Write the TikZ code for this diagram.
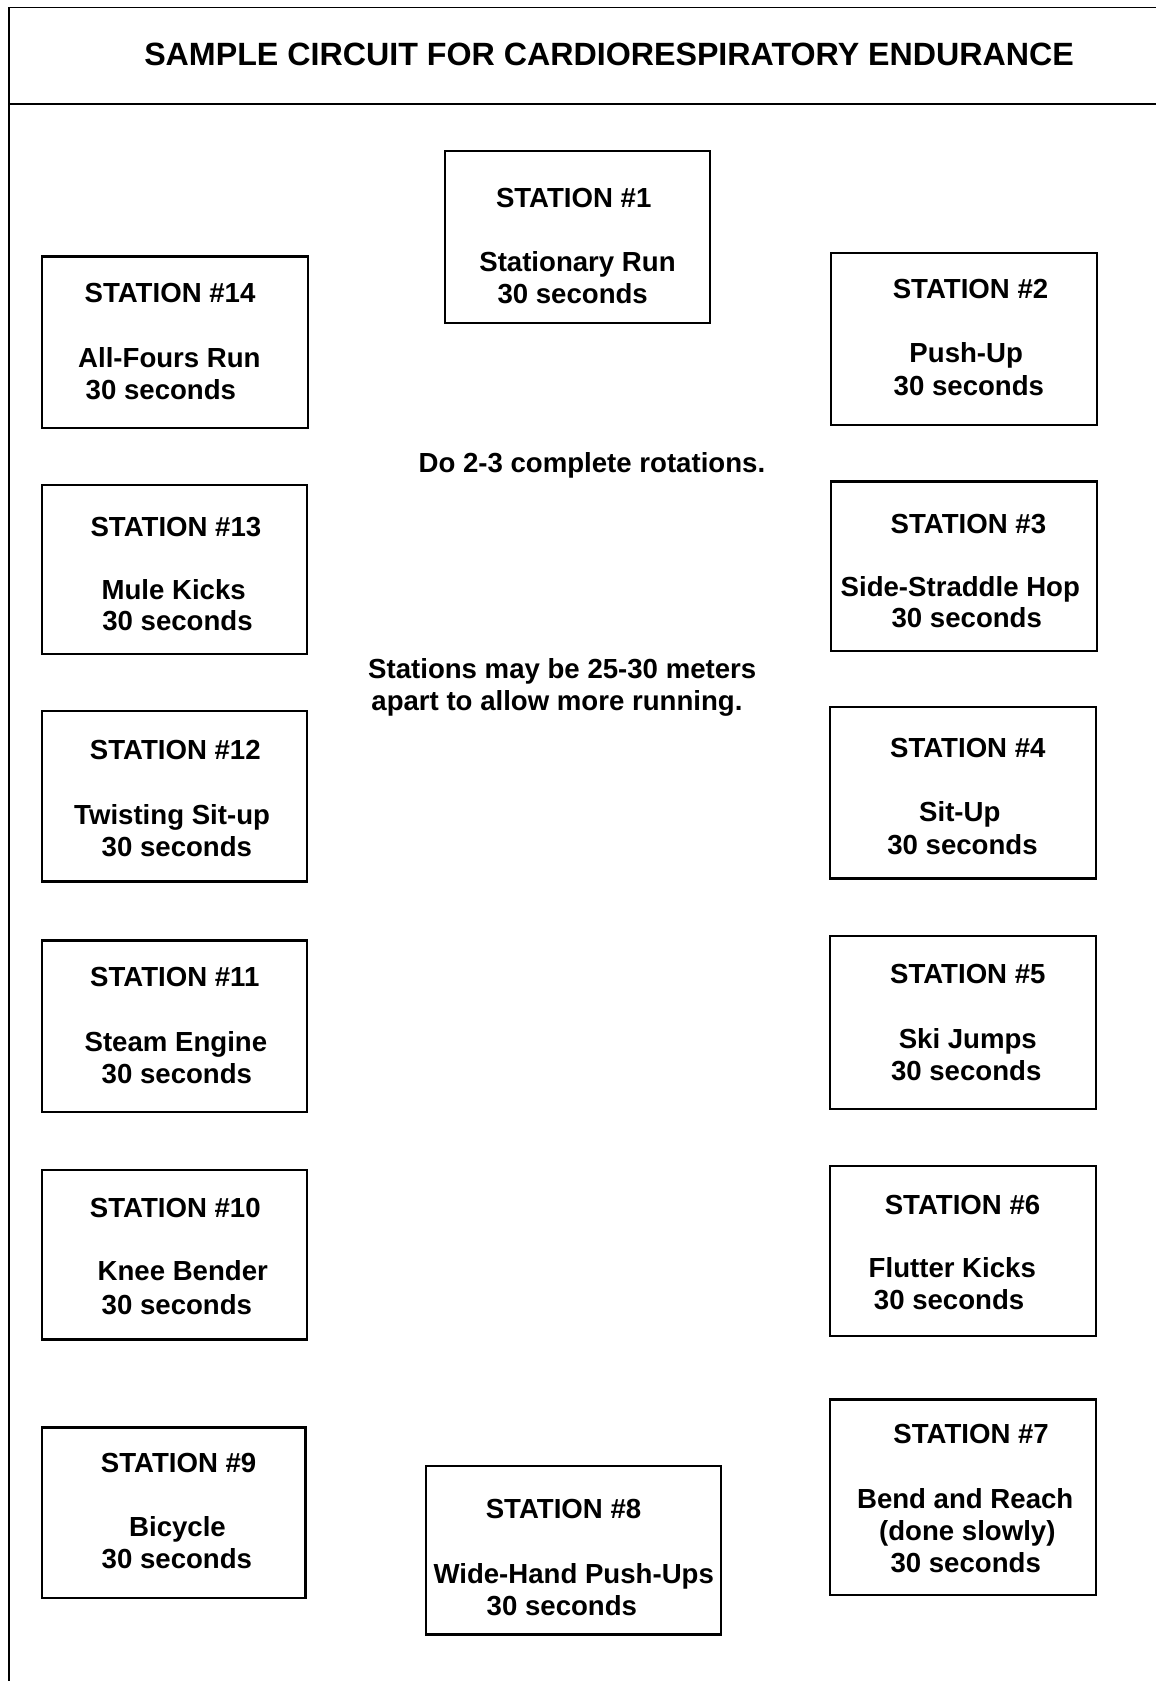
\documentclass[tikz,border=0pt]{standalone}
\usepackage{fontspec}
\setmainfont{Liberation Sans}
\tikzset{
  stbox/.style={draw, line width=1.2pt, inner sep=0pt},
  stxt/.style={anchor=base, inner sep=0pt, font=\bfseries\fontsize{13.8}{16}\selectfont},
  frameline/.style={line width=0.9pt},
}
\newcommand\stbx[5]{\node[stbox, minimum width={(#4-#2)*0.5pt}, minimum height={(#5-#3)*0.5pt}] (#1) at ({(#2+#4)/2},{(#3+#5)/2}) {};}
\newcommand\stl[4]{\node[stxt] (#1) at (#2,{#3+10}) {#4};}
\begin{document}
\begin{tikzpicture}[x=0.5pt,y=-0.5pt]
\useasboundingbox (0,0) rectangle (1156,1681);
% frame
\coordinate (fTL) at (8.6,7.5);
\coordinate (fBL) at (8.6,1681);
\coordinate (fTR) at (1156,7.5);
\coordinate (sL) at (8.6,104);
\coordinate (sR) at (1156,104);
\draw[frameline] (fBL) -- (fTL) -- (fTR);
\draw[frameline] (sL) -- (sR);
\node[anchor=base, inner sep=0pt, font=\bfseries\fontsize{16.1}{18}\selectfont] (title) at (609.1,65) {SAMPLE CIRCUIT FOR CARDIORESPIRATORY ENDURANCE};
% notes
\node[stxt, anchor=base west] (note1) at (418.2,472) {Do 2-3 complete rotations.};
\node[stxt, anchor=base west] (note2) at (367.8,678) {Stations may be 25-30 meters};
\node[stxt, anchor=base west] (note3) at (371,710) {apart to allow more running.};
% station 1
\stbx{b1}{445}{151}{710}{323}
\stl{s1a}{573.7}{197.3}{STATION \#1}
\stl{s1b}{577.5}{261.7}{Stationary Run}
\stl{s1c}{572.7}{293.8}{30 seconds}
% station 14
\stbx{b14}{41.8}{256.3}{307.8}{427.9}
\stl{s14a}{170}{292.8}{STATION \#14}
\stl{s14b}{169.4}{357.1}{All-Fours Run}
\stl{s14c}{160.9}{389.3}{30 seconds}
% station 2
\stbx{b2}{831}{253}{1097}{424.7}
\stl{s2a}{970.5}{288.5}{STATION \#2}
\stl{s2b}{966.2}{352.8}{Push-Up}
\stl{s2c}{968.9}{385}{30 seconds}
% station 13
\stbx{b13}{41.8}{484.7}{306.7}{654.2}
\stl{s13a}{175.9}{526.5}{STATION \#13}
\stl{s13b}{173.7}{589.8}{Mule Kicks}
\stl{s13c}{177.5}{620.9}{30 seconds}
% station 3
\stbx{b3}{831}{481.5}{1097}{651}
\stl{s3a}{968.4}{523.3}{STATION \#3}
\stl{s3b}{960.3}{586.6}{Side-Straddle Hop}
\stl{s3c}{966.8}{617.7}{30 seconds}
% station 12
\stbx{b12}{41.8}{711}{306.7}{881.5}
\stl{s12a}{175.3}{749.6}{STATION \#12}
\stl{s12b}{172.1}{814}{Twisting Sit-up}
\stl{s12c}{176.9}{846.1}{30 seconds}
% station 4
\stbx{b4}{830}{706.7}{1096}{878.3}
\stl{s4a}{967.8}{747.5}{STATION \#4}
\stl{s4b}{959.8}{811.8}{Sit-Up}
\stl{s4c}{962.5}{844}{30 seconds}
% station 11
\stbx{b11}{41.8}{940.5}{306.7}{1112.1}
\stl{s11a}{174.8}{976.9}{STATION \#11}
\stl{s11b}{175.9}{1041.3}{Steam Engine}
\stl{s11c}{176.9}{1073.5}{30 seconds}
% station 5
\stbx{b5}{830}{936.2}{1096}{1108.9}
\stl{s5a}{967.8}{973.7}{STATION \#5}
\stl{s5b}{967.8}{1038.1}{Ski Jumps}
\stl{s5c}{966.2}{1070.3}{30 seconds}
% station 10
\stbx{b10}{41.8}{1170}{306.7}{1339.4}
\stl{s10a}{175.3}{1207.5}{STATION \#10}
\stl{s10b}{182.8}{1270.8}{Knee Bender}
\stl{s10c}{176.9}{1304}{30 seconds}
% station 6
\stbx{b6}{830}{1165.7}{1096}{1336.2}
\stl{s6a}{962.5}{1204.3}{STATION \#6}
\stl{s6b}{952.3}{1267.6}{Flutter Kicks}
\stl{s6c}{949.1}{1299.7}{30 seconds}
% station 9
\stbx{b9}{41.8}{1427.4}{305.6}{1597.9}
\stl{s9a}{178.6}{1462.8}{STATION \#9}
\stl{s9b}{177.5}{1526}{Bicycle}
\stl{s9c}{176.9}{1558.2}{30 seconds}
% station 8
\stbx{b8}{425.7}{1466}{720.7}{1634.3}
\stl{s8a}{563.5}{1508.9}{STATION \#8}
\stl{s8b}{573.7}{1573.2}{Wide-Hand Push-Ups}
\stl{s8c}{561.9}{1605.4}{30 seconds}
% station 7
\stbx{b7}{830}{1399.5}{1096}{1594.7}
\stl{s7a}{971.1}{1433.8}{STATION \#7}
\stl{s7b}{965.2}{1498.1}{Bend and Reach}
\stl{s7c}{967.3}{1530.3}{(done slowly)}
\stl{s7d}{965.7}{1562.5}{30 seconds}
\end{tikzpicture}
\end{document}
